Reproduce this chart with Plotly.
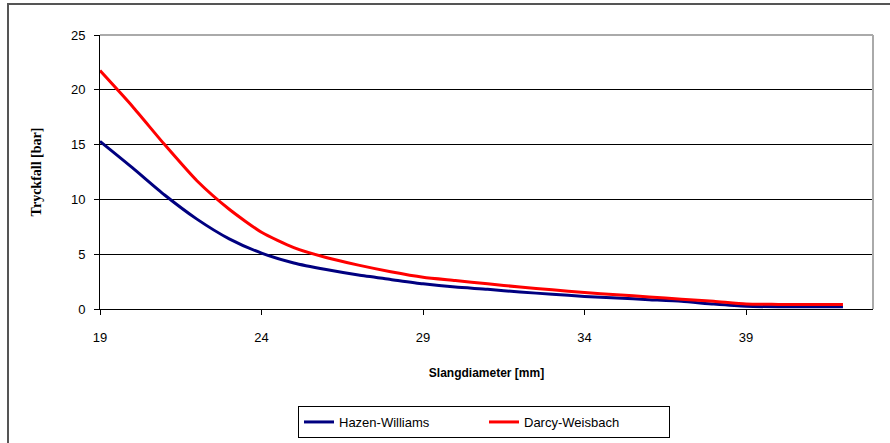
import plotly.graph_objects as go

diameter = [19, 20, 21, 22, 23, 24, 25, 26, 27, 28, 29, 30, 31, 32, 33, 34, 35, 36, 37, 38, 39, 40, 41, 42]
hazen_williams = [15.3, 12.9, 10.4, 8.2, 6.4, 5.1, 4.2, 3.6, 3.1, 2.7, 2.3, 2.0, 1.8, 1.55, 1.35, 1.15, 1.0, 0.85, 0.7, 0.45, 0.25, 0.2, 0.2, 0.2]
darcy_weisbach = [21.75, 18.5, 15.0, 11.7, 9.1, 7.0, 5.6, 4.7, 4.0, 3.4, 2.9, 2.6, 2.3, 2.0, 1.75, 1.5, 1.3, 1.1, 0.9, 0.7, 0.45, 0.42, 0.4, 0.4]
x_ticks = [19, 24, 29, 34, 39]
y_ticks = [0, 5, 10, 15, 20, 25]

W, H = 890, 443
L, R, T, B = 100, 17, 35, 134
pw, ph = W - L - R, H - T - B

def px(xp):
    return (xp - L) / pw

def py(yp):
    return (H - B - yp) / ph

fig = go.Figure()
fig.add_trace(go.Scatter(x=diameter, y=hazen_williams, mode="lines", name="Hazen-Williams",
                         line=dict(color="#000080", width=3, shape="spline", smoothing=0.6)))
fig.add_trace(go.Scatter(x=diameter, y=darcy_weisbach, mode="lines", name="Darcy-Weisbach",
                         line=dict(color="#ff0000", width=3, shape="spline", smoothing=0.6)))

sans = "Liberation Sans, Arial, sans-serif"
serif = "Liberation Serif, Times New Roman, serif"

fig.update_layout(
    width=W, height=H,
    margin=dict(l=L, r=R, t=T, b=B, pad=0, autoexpand=False),
    paper_bgcolor="white", plot_bgcolor="white",
    font=dict(family=sans, size=13, color="black"),
    showlegend=True,
    legend=dict(orientation="h", x=484 / W, xanchor="center", xref="container",
                y=(H - 422) / H, yanchor="middle", yref="container",
                bordercolor="black", borderwidth=1, bgcolor="white",
                font=dict(family=sans, size=13, color="black"),
                entrywidth=140, entrywidthmode="pixels", tracegroupgap=0),
    xaxis=dict(range=[19, 42.93], tickmode="array", tickvals=x_ticks,
               ticktext=[str(v) for v in x_ticks], automargin=False,
               showgrid=False, zeroline=False, showline=True, linecolor="black", linewidth=1,
               ticks="outside", ticklen=5, tickcolor="black", ticklabelstandoff=11,
               tickfont=dict(family=sans, size=13),
               title=dict(text="<b>Slangdiameter [mm]</b>", font=dict(family=sans, size=12),
                          standoff=25)),
    yaxis=dict(range=[0, 25], tickmode="array", tickvals=y_ticks, automargin=False,
               showgrid=True, gridcolor="black", gridwidth=1,
               zeroline=False, showline=True, linecolor="black", linewidth=1,
               ticks="outside", ticklen=5, tickcolor="black", ticklabelstandoff=6,
               tickfont=dict(family=sans, size=13),
               title=dict(text="<b>Tryckfall [bar]</b>", font=dict(family=serif, size=14),
                          standoff=26)),
    shapes=[
        dict(type="rect", xref="paper", yref="paper",
             x0=px(8), x1=px(898), y0=py(452), y1=py(4),
             line=dict(color="#555555", width=2), fillcolor="rgba(0,0,0,0)", layer="above"),
        dict(type="line", xref="paper", yref="paper", x0=0, x1=1, y0=1, y1=1,
             line=dict(color="#aaaaaa", width=2)),
        dict(type="line", xref="paper", yref="paper", x0=1, x1=1, y0=0, y1=1,
             line=dict(color="#aaaaaa", width=2)),
    ],
)

fig.write_html("out.html")
